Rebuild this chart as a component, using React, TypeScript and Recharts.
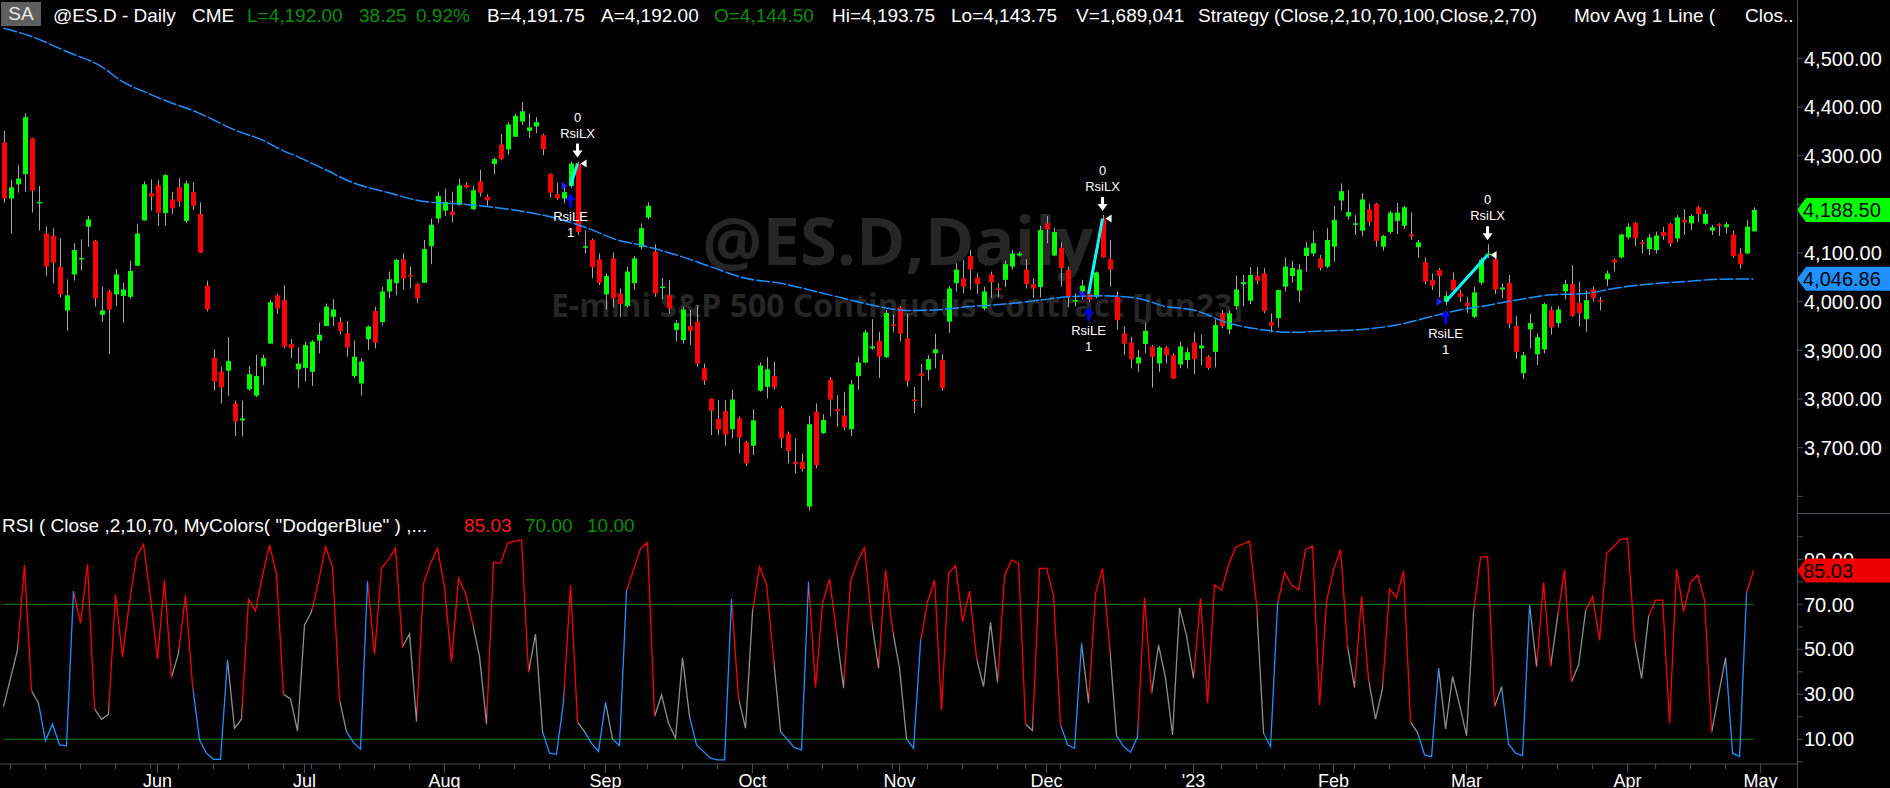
import React from 'react';
import {
  ComposedChart, Bar, Line, Scatter, XAxis, YAxis, ReferenceLine, ReferenceDot,
} from 'recharts';

// daily bars, Apr 29 2022 .. Apr 28 2023 (index = bar number)
const OPEN = [
  4327, 4212, 4241, 4262, 4336, 4204, 4140, 4135, 4071, 3982,
  4056, 4089, 4154, 4125, 3973, 4021, 4015, 4012, 4010, 4074,
  4167, 4223, 4240, 4182, 4210, 4235, 4166, 4225, 4180, 4033,
  3884, 3856, 3858, 3791, 3756, 3820, 3807, 3867, 3914, 4013,
  4003, 3913, 3861, 3864, 3856, 3920, 3950, 3969, 3958, 3935,
  3847, 3832, 3923, 3981, 3958, 4021, 4038, 4087, 4055, 4036,
  4039, 4114, 4171, 4187, 4185, 4199, 4240, 4190, 4247, 4216,
  4283, 4323, 4313, 4339, 4370, 4351, 4360, 4342, 4262, 4221,
  4212, 4238, 4284, 4113, 4127, 4087, 4015, 4089, 4017, 3991,
  4038, 4112, 4173, 4103, 4030, 4013, 3942, 3921, 3950, 3959,
  3863, 3801, 3759, 3775, 3738, 3760, 3711, 3704, 3817, 3825,
  3847, 3781, 3729, 3671, 3671, 3579, 3774, 3730, 3840, 3779,
  3766, 3738, 3847, 3875, 3904, 3919, 3886, 3953, 3988, 3925,
  3799, 3853, 3860, 3894, 3880, 3959, 4038, 4048, 4094, 4050,
  3986, 4056, 4027, 4045, 4072, 4095, 4066, 4036, 4030, 4161,
  4095, 4111, 4065, 4001, 4021, 4016, 4010, 4171, 4087, 4010,
  3935, 3916, 3873, 3913, 3908, 3873, 3906, 3890, 3871, 3880,
  3916, 3904, 3887, 3897, 3976, 3943, 3991, 4036, 4002, 4053,
  4058, 3958, 3966, 4031, 4053, 4023, 4094, 4099, 4089, 4072,
  4113, 4208, 4175, 4160, 4146, 4190, 4201, 4113, 4143, 4166,
  4156, 4138, 4112, 4081, 4045, 4065, 4000, 4045, 4017, 3998,
  3969, 4039, 4096, 4087, 4025, 4038, 3950, 3853, 3943, 3892,
  3902, 3983, 3956, 4021, 4036, 3997, 3964, 4025, 4003, 4046,
  4086, 4091, 4132, 4162, 4122, 4108, 4106, 4143, 4160, 4130,
  4168, 4161, 4194, 4160, 4146, 4159, 4153, 4138, 4099, 4099,
  4144.5,
];
const HIGH = [
  4351, 4251, 4281, 4387, 4337, 4238, 4155, 4151, 4130, 4046,
  4120, 4128, 4176, 4127, 4031, 4025, 4067, 4039, 4084, 4160,
  4247, 4251, 4250, 4262, 4226, 4254, 4249, 4245, 4204, 4043,
  3902, 3867, 3927, 3797, 3797, 3868, 3891, 3891, 4004, 4016,
  4034, 3923, 3906, 3918, 3921, 3957, 3996, 4005, 3968, 3960,
  3920, 3884, 3951, 3990, 4030, 4062, 4088, 4099, 4072, 4039,
  4127, 4171, 4226, 4232, 4226, 4253, 4245, 4238, 4271, 4221,
  4296, 4345, 4369, 4386, 4410, 4387, 4379, 4345, 4264, 4245,
  4242, 4288, 4288, 4146, 4130, 4099, 4058, 4101, 4027, 4072,
  4094, 4161, 4204, 4118, 4048, 4045, 3962, 3990, 3983, 3993,
  3873, 3801, 3798, 3798, 3819, 3764, 3714, 3779, 3875, 3886,
  3877, 3786, 3733, 3719, 3688, 3765, 3791, 3769, 3845, 3808,
  3815, 3839, 3887, 3942, 3964, 3938, 3983, 3973, 3991, 3976,
  3825, 3872, 3890, 3934, 3892, 4032, 4079, 4086, 4106, 4058,
  4031, 4062, 4038, 4084, 4106, 4103, 4087, 4048, 4156, 4176,
  4152, 4122, 4072, 4017, 4045, 4021, 4062, 4178, 4127, 4021,
  3949, 3928, 3901, 3956, 3911, 3909, 3909, 3894, 3918, 3906,
  3937, 3932, 3890, 3964, 3983, 3982, 4054, 4055, 4071, 4071,
  4069, 3976, 4025, 4091, 4084, 4077, 4123, 4145, 4096, 4151,
  4197, 4243, 4229, 4178, 4223, 4202, 4203, 4137, 4187, 4203,
  4197, 4183, 4127, 4091, 4058, 4069, 4021, 4060, 4025, 4010,
  4031, 4091, 4118, 4099, 4038, 4055, 3971, 3897, 3975, 3935,
  3998, 3990, 3991, 4045, 4075, 4041, 4023, 4031, 4010, 4064,
  4089, 4140, 4161, 4164, 4127, 4140, 4144, 4154, 4162, 4178,
  4190, 4180, 4197, 4188, 4158, 4161, 4164, 4146, 4110, 4168,
  4193.75,
];
const LOW = [
  4203, 4140, 4224, 4226, 4183, 4146, 4053, 4038, 4009, 3940,
  4043, 4064, 4113, 3990, 3959, 3892, 3991, 3957, 4006, 4073,
  4166, 4187, 4156, 4156, 4180, 4195, 4162, 4188, 4100, 3980,
  3817, 3791, 3806, 3724, 3723, 3817, 3804, 3829, 3913, 3975,
  3904, 3884, 3823, 3836, 3827, 3894, 3950, 3950, 3933, 3887,
  3843, 3807, 3901, 3904, 3952, 4007, 4013, 4025, 4027, 3997,
  4039, 4077, 4162, 4176, 4163, 4197, 4233, 4188, 4216, 4197,
  4262, 4291, 4301, 4339, 4363, 4337, 4346, 4301, 4214, 4209,
  4202, 4233, 4137, 4099, 4048, 4034, 3984, 3988, 3969, 3988,
  4025, 4108, 4169, 4010, 4005, 3976, 3918, 3914, 3911, 3866,
  3829, 3726, 3726, 3704, 3719, 3688, 3662, 3685, 3815, 3801,
  3819, 3699, 3668, 3647, 3651, 3571, 3658, 3728, 3764, 3743,
  3736, 3724, 3819, 3873, 3901, 3843, 3884, 3938, 3918, 3825,
  3771, 3783, 3838, 3863, 3817, 3936, 4021, 4017, 4025, 4016,
  3982, 4008, 4010, 4030, 4066, 4093, 4027, 4008, 4009, 4120,
  4093, 4031, 3988, 3990, 4005, 4000, 4007, 4091, 4031, 3943,
  3890, 3863, 3856, 3894, 3824, 3856, 3873, 3841, 3863, 3863,
  3851, 3870, 3860, 3865, 3945, 3933, 3984, 3991, 3995, 4036,
  3976, 3937, 3947, 4021, 4039, 3998, 4062, 4093, 4064, 4069,
  4082, 4187, 4169, 4137, 4134, 4156, 4113, 4105, 4139, 4139,
  4149, 4127, 4091, 4036, 4024, 4009, 3993, 4017, 3999, 3977,
  3966, 4034, 4090, 4016, 4007, 3945, 3882, 3841, 3904, 3870,
  3894, 3932, 3947, 4005, 3969, 3949, 3938, 4000, 3982, 4032,
  4062, 4089, 4128, 4114, 4099, 4096, 4099, 4127, 4113, 4123,
  4137, 4147, 4164, 4158, 4137, 4135, 4140, 4091, 4068, 4098,
  4143.75,
];
const CLOSE = [
  4212, 4235, 4253, 4379, 4228, 4205, 4072, 4080, 4015, 4013,
  4106, 4090, 4169, 4007, 3982, 3984, 4056, 4025, 4063, 4140,
  4241, 4216, 4183, 4260, 4192, 4206, 4243, 4197, 4101, 3984,
  3836, 3824, 3878, 3754, 3760, 3851, 3847, 3884, 3999, 3986,
  3908, 3904, 3873, 3911, 3918, 3932, 3990, 3984, 3940, 3906,
  3887, 3877, 3949, 3916, 4021, 4046, 4086, 4048, 4053, 4007,
  4108, 4158, 4217, 4205, 4178, 4239, 4235, 4229, 4224, 4208,
  4293, 4293, 4364, 4382, 4391, 4358, 4369, 4313, 4224, 4212,
  4225, 4284, 4143, 4114, 4071, 4039, 4053, 4007, 3995, 4062,
  4089, 4151, 4197, 4017, 4031, 3986, 3956, 3984, 3940, 3873,
  3838, 3776, 3738, 3727, 3799, 3721, 3668, 3756, 3869, 3861,
  3824, 3719, 3693, 3666, 3656, 3748, 3664, 3757, 3799, 3775,
  3742, 3830, 3875, 3937, 3908, 3887, 3977, 3951, 3934, 3837,
  3796, 3847, 3882, 3902, 3822, 4027, 4066, 4031, 4066, 4036,
  4021, 4040, 4025, 4077, 4099, 4099, 4036, 4027, 4147, 4149,
  4143, 4069, 4010, 4003, 4033, 4004, 4060, 4091, 4066, 3962,
  3914, 3882, 3886, 3940, 3887, 3906, 3890, 3842, 3908, 3896,
  3882, 3910, 3864, 3952, 3950, 3976, 4025, 4040, 4055, 4043,
  3981, 3951, 4024, 4072, 4069, 4066, 4111, 4120, 4069, 4127,
  4168, 4227, 4184, 4161, 4210, 4164, 4125, 4135, 4183, 4183,
  4194, 4134, 4122, 4041, 4033, 4053, 4012, 4023, 4010, 3991,
  4019, 4086, 4099, 4025, 4029, 3955, 3897, 3890, 3956, 3927,
  3995, 3947, 3984, 4036, 3971, 3977, 4003, 4007, 4001, 4058,
  4081, 4138, 4154, 4130, 4120, 4132, 4136, 4135, 4120, 4173,
  4163, 4176, 4180, 4180, 4153, 4158, 4159, 4094, 4077, 4154,
  4188.5,
];

// RSI(2) as plotted in the lower panel
const RSI = [
  24.5, 37.1, 49.7, 87.5, 31.5, 26.0, 9.3, 16.7, 7.5, 7.1,
  75.9, 61.6, 87.8, 23.5, 18.9, 21.1, 74.4, 46.7, 71.2, 91.2,
  96.7, 73.0, 45.6, 80.8, 37.6, 48.2, 74.1, 34.1, 9.7, 3.8,
  1.1, 1.1, 45.3, 14.9, 18.9, 72.2, 67.0, 83.0, 96.4, 83.3,
  30.0, 27.9, 13.7, 60.8, 66.7, 80.1, 95.6, 86.7, 27.5, 13.4,
  8.5, 5.6, 80.4, 47.8, 86.0, 90.0, 94.9, 51.2, 56.8, 17.9,
  79.3, 88.2, 94.9, 77.4, 44.2, 81.6, 74.9, 61.6, 46.7, 16.7,
  88.7, 88.2, 97.1, 98.1, 98.6, 39.8, 56.8, 13.4, 3.8, 3.3,
  26.7, 78.6, 17.6, 13.4, 8.2, 4.6, 26.4, 10.0, 7.2, 75.9,
  85.3, 94.9, 97.4, 20.1, 29.7, 17.1, 10.4, 46.3, 20.1, 7.5,
  4.5, 1.6, 0.8, 0.8, 72.4, 28.2, 14.9, 66.7, 86.7, 78.9,
  46.0, 13.4, 9.7, 6.3, 5.3, 80.1, 33.0, 70.4, 81.3, 57.1,
  32.7, 80.1, 89.0, 95.2, 63.0, 41.6, 85.3, 58.6, 41.6, 10.1,
  6.0, 53.4, 71.2, 80.8, 23.0, 83.8, 87.2, 62.3, 75.9, 46.0,
  33.4, 62.0, 35.3, 82.7, 89.7, 88.2, 16.7, 13.9, 86.0, 86.0,
  73.9, 16.4, 7.5, 6.0, 52.7, 26.0, 74.9, 86.0, 51.6, 11.6,
  6.7, 4.2, 11.2, 73.0, 30.4, 51.9, 37.1, 11.9, 68.5, 56.0,
  37.1, 72.7, 26.0, 78.6, 76.4, 87.5, 95.3, 96.7, 98.1, 69.7,
  12.7, 6.7, 70.0, 84.2, 78.6, 76.4, 94.4, 95.9, 25.3, 71.5,
  85.3, 94.4, 51.2, 33.0, 73.4, 36.4, 19.0, 32.7, 76.8, 73.0,
  84.8, 17.6, 13.0, 3.0, 2.3, 41.6, 14.6, 37.9, 25.3, 11.6,
  66.7, 90.9, 91.2, 24.5, 33.4, 7.9, 3.8, 2.7, 69.7, 42.3,
  79.8, 42.3, 64.5, 85.3, 35.6, 43.0, 67.0, 73.4, 54.1, 92.7,
  95.6, 98.9, 99.3, 54.1, 37.1, 64.5, 71.9, 71.9, 17.1, 85.7,
  66.7, 79.8, 83.0, 71.9, 13.0, 29.7, 46.3, 3.8, 2.3, 75.3,
  85.03,
];

// 100-bar moving average, read at these bars
const MA_IDX = [
  0, 4, 9, 14, 17, 20, 23, 28, 33, 37, 40, 42, 46, 50, 55, 60, 65, 70, 74, 79,
  84, 87, 92, 97, 101, 106, 111, 116, 120, 125, 129, 133, 138, 143, 148, 152, 157, 162, 166, 170,
  175, 180, 184, 189, 194, 199, 203, 208, 211, 216, 221, 226, 230, 235, 240, 245, 250,
];
const MA_VAL = [
  4562, 4545, 4514, 4483, 4452, 4432, 4414, 4387, 4353, 4332, 4310, 4298, 4271, 4244, 4224, 4206, 4201, 4194, 4186, 4171,
  4148, 4130, 4113, 4092, 4072, 4048, 4038, 4021, 4007, 3990, 3982, 3983, 3990, 3995, 4003, 4010, 4012, 4007, 3990, 3983,
  3956, 3942, 3937, 3940, 3943, 3952, 3966, 3983, 3990, 4003, 4014, 4017, 4027, 4036, 4041, 4046, 4046.86,
];

// strategy trades (RsiLE entry bar -> RsiLX exit bar)
const ENTRY_IDX = [81, 155, 206];
const EXIT_IDX = [82, 157, 212];

const MONTH_IDX = [22, 43, 63, 86, 107, 128, 149, 170, 190, 209, 232, 251];
const MONTH_LABELS = ['Jun', 'Jul', 'Aug', 'Sep', 'Oct', 'Nov', 'Dec', "'23", 'Feb', 'Mar', 'Apr', 'May'];
const WEEK_IDX = [
  1, 6, 11, 16, 21, 25, 30, 35, 40, 44, 48, 53, 58, 68, 73, 78, 83, 88, 92, 97, 102,
  112, 117, 122, 127, 132, 137, 142, 146, 151, 156, 161, 166, 174, 179, 183, 188,
  193, 198, 203, 207, 212, 217, 222, 227, 236, 241, 246,
];
const PRICE_TICKS = [3600, 3700, 3800, 3900, 4000, 4100, 4200, 4300, 4400, 4500];
const RSI_TICKS = [0, 10, 20, 30, 40, 50, 60, 70, 80, 90, 100];
const RSI_LABELED = [10, 30, 50, 70, 90];
const OVERBOUGHT = 70;
const OVERSOLD = 10;

const AXIS_X = 1797;
const X_DOMAIN: [number, number] = [-0.5, 256.2];
const PRICE_DOMAIN: [number, number] = [3565.8, 4568.5];
const RSI_DOMAIN: [number, number] = [-1, 110.6];
const FONT = '"Liberation Sans", Arial, sans-serif';

const COL = {
  axis: '#4d4d58',
  up: '#00ff00',
  down: '#ff0000',
  wick: '#a6a6a6',
  ma: '#1e90ff',
  trade: '#00ffff',
  grey: '#8e8e8e',
  red: '#ff0000',
  blue: '#1e90ff',
  level: '#008a00',
  green: '#0a8f0a',
};

const fmt2 = (v: number) =>
  v.toLocaleString('en-US', { minimumFractionDigits: 2, maximumFractionDigits: 2 });

const candles = OPEN.map((o, i) => ({
  i, open: o, high: HIGH[i], low: LOW[i], close: CLOSE[i], range: [LOW[i], HIGH[i]],
}));
const rsiRows = RSI.map((v, i) => ({ i, rsi: v }));
const maRows = MA_IDX.map((i, k) => ({ i, ma: MA_VAL[k] }));
const trades = ENTRY_IDX.map((e, k) => [
  { i: e, v: OPEN[e] },
  { i: EXIT_IDX[k], v: OPEN[EXIT_IDX[k]] },
]);
const entryMarks = ENTRY_IDX.map((i) => ({ i, y: LOW[i] }));
const exitMarks = EXIT_IDX.map((i) => ({ i, y: HIGH[i] }));
const entryFills = ENTRY_IDX.map((i) => ({ i, y: OPEN[i] }));
const exitFills = EXIT_IDX.map((i) => ({ i, y: OPEN[i] }));

const segColor = (a: number, b: number) => {
  if (a < OVERSOLD || b < OVERSOLD) return COL.blue;
  if (a > OVERBOUGHT || b > OVERBOUGHT) return COL.red;
  return COL.grey;
};

const Candle = (props: any) => {
  const { x, y, width, height, payload } = props;
  if (x == null || !payload) return null;
  const top = Math.min(y, y + height);
  const bot = Math.max(y, y + height);
  const span = payload.high - payload.low || 1;
  const toY = (v: number) => top + ((payload.high - v) / span) * (bot - top);
  const cx = Math.round(x + width / 2) + 0.5;
  const yo = toY(payload.open);
  const yc = toY(payload.close);
  const color = payload.close >= payload.open ? COL.up : COL.down;
  const bt = Math.min(yo, yc);
  const bh = Math.max(1.5, Math.abs(yc - yo));
  return (
    <g>
      <line x1={cx} x2={cx} y1={top} y2={bot} stroke={COL.wick} strokeWidth={1} />
      <rect x={cx - 2.5} y={bt} width={5} height={bh} fill={color} />
    </g>
  );
};

const EntryMark = ({ cx, cy }: any) => {
  if (cx == null) return null;
  const t = cy + 5;
  return (
    <g>
      <polygon points={`${cx},${t} ${cx - 5},${t + 7} ${cx + 5},${t + 7}`} fill="#0000ff" />
      <rect x={cx - 1.5} y={t + 6} width={3} height={8} fill="#0000ff" />
      <text x={cx} y={t + 28} fill="#fff" fontSize={13} textAnchor="middle" fontFamily={FONT}>RsiLE</text>
      <text x={cx} y={t + 44} fill="#fff" fontSize={13} textAnchor="middle" fontFamily={FONT}>1</text>
    </g>
  );
};

const ExitMark = ({ cx, cy }: any) => {
  if (cx == null) return null;
  const b = cy - 4;
  return (
    <g>
      <polygon points={`${cx},${b} ${cx - 5},${b - 7} ${cx + 5},${b - 7}`} fill="#ffffff" />
      <rect x={cx - 1.5} y={b - 14} width={3} height={8} fill="#ffffff" />
      <text x={cx} y={b - 20} fill="#fff" fontSize={13} textAnchor="middle" fontFamily={FONT}>RsiLX</text>
      <text x={cx} y={b - 36} fill="#fff" fontSize={13} textAnchor="middle" fontFamily={FONT}>0</text>
    </g>
  );
};

const EntryFill = ({ cx, cy }: any) =>
  cx == null ? null : (
    <polygon points={`${cx - 9},${cy - 4} ${cx - 3},${cy} ${cx - 9},${cy + 4}`} fill="#2020ff" />
  );

const ExitFill = ({ cx, cy }: any) =>
  cx == null ? null : (
    <polygon points={`${cx + 9},${cy - 4} ${cx + 3},${cy} ${cx + 9},${cy + 4}`} fill="#ffffff" />
  );

// value tag on the price scale, drawn over the scale labels
const Tag = ({ cy, fill, text }: any) => {
  if (cy == null) return null;
  const x0 = AXIS_X;
  const h = 24;
  return (
    <g>
      <polygon
        points={`${x0},${cy} ${x0 + 9},${cy - h / 2} ${x0 + 95},${cy - h / 2} ${x0 + 95},${cy + h / 2} ${x0 + 9},${cy + h / 2}`}
        fill={fill}
      />
      <text x={x0 + 6} y={cy} dy="0.36em" fill="#000" fontSize={20} fontFamily={FONT}>{text}</text>
    </g>
  );
};

const PriceTick = ({ x, y, payload }: any) => (
  <g>
    <line x1={x} x2={x + 6} y1={y} y2={y} stroke={COL.axis} />
    {payload.value !== 3600 && (
      <text x={x + 7} y={y} dy="0.36em" fill="#fff" fontSize={20} fontFamily={FONT}>{fmt2(payload.value)}</text>
    )}
  </g>
);

const RsiTick = ({ x, y, payload }: any) => (
  <g>
    <line x1={x} x2={x + 6} y1={y} y2={y} stroke={COL.axis} />
    {RSI_LABELED.includes(payload.value) && (
      <text x={x + 7} y={y} dy="0.36em" fill="#fff" fontSize={20} fontFamily={FONT}>{fmt2(payload.value)}</text>
    )}
  </g>
);

const DateTick = ({ x, y, payload }: any) => {
  const m = MONTH_IDX.indexOf(payload.value);
  return (
    <g>
      <line x1={x} x2={x} y1={y} y2={y + (m >= 0 ? 9 : 5)} stroke={COL.axis} />
      {m >= 0 && (
        <text x={x} y={y + 23} fill="#fff" fontSize={18} textAnchor="middle" fontFamily={FONT}>{MONTH_LABELS[m]}</text>
      )}
    </g>
  );
};

const HEADER = [
  { x: 53, t: '@ES.D - Daily', c: '#fff' },
  { x: 192, t: 'CME', c: '#fff' },
  { x: 247, t: 'L=4,192.00', c: COL.green },
  { x: 359, t: '38.25', c: COL.green },
  { x: 416, t: '0.92%', c: COL.green },
  { x: 487, t: 'B=4,191.75', c: '#fff' },
  { x: 601, t: 'A=4,192.00', c: '#fff' },
  { x: 714, t: 'O=4,144.50', c: COL.green },
  { x: 832, t: 'Hi=4,193.75', c: '#fff' },
  { x: 951, t: 'Lo=4,143.75', c: '#fff' },
  { x: 1076, t: 'V=1,689,041', c: '#fff' },
  { x: 1198, t: 'Strategy (Close,2,10,70,100,Close,2,70)', c: '#fff' },
  { x: 1574, t: 'Mov Avg 1 Line (', c: '#fff' },
  { x: 1745, t: 'Clos...', c: '#fff' },
];

const RSI_TITLE = [
  { x: 2, t: 'RSI ( Close ,2,10,70, MyColors( "DodgerBlue" ) ,...', c: '#fff' },
  { x: 464, t: '85.03', c: '#ff1a1a' },
  { x: 525, t: '70.00', c: COL.green },
  { x: 587, t: '10.00', c: COL.green },
];

export default function App() {
  const n = RSI.length - 1;
  const stops: React.ReactNode[] = [];
  for (let k = 0; k < n; k++) {
    const c = segColor(RSI[k], RSI[k + 1]);
    stops.push(<stop key={`a${k}`} offset={k / n} stopColor={c} />);
    stops.push(<stop key={`b${k}`} offset={(k + 1) / n} stopColor={c} />);
  }
  const lastMa = MA_VAL[MA_VAL.length - 1];
  const lastClose = CLOSE[CLOSE.length - 1];

  const text = (s: { x: number; t: string; c: string }, top: number, i: number) => (
    <div key={i} style={{ position: 'absolute', left: s.x, top, color: s.c, fontSize: 19, lineHeight: '22px', whiteSpace: 'pre' }}>
      {s.t}
    </div>
  );

  return (
    <div style={{ position: 'absolute', left: 0, top: 0, width: 1890, height: 788, background: '#000', overflow: 'hidden', fontFamily: FONT }}>
      {/* watermark */}
      <svg width={1890} height={513} style={{ position: 'absolute', left: 0, top: 0 }}>
        <text x={898} y={265} textAnchor="middle" fontSize={67} fontWeight={700} fill="#262626" fontFamily='"Open Sans", sans-serif'>@ES.D,Daily</text>
        <text x={897} y={317} textAnchor="middle" fontSize={32} fontWeight={700} fill="#262626" fontFamily='"Open Sans", sans-serif'>E-mini S&amp;P 500 Continuous Contract [Jun23]</text>
      </svg>

      {/* header */}
      <div style={{ position: 'absolute', left: 0, top: 0, width: 1795, height: 26, overflow: 'hidden' }}>
        <div style={{ position: 'absolute', left: 1, top: 2, width: 40, height: 24, background: '#5e5e5e', color: '#e8e8e8', fontSize: 19, lineHeight: '24px', textAlign: 'center' }}>SA</div>
        {HEADER.map((s, i) => text(s, 5, i))}
      </div>

      {/* price panel */}
      <div style={{ position: 'absolute', left: 0, top: 0 }}>
        <ComposedChart width={1890} height={513} data={candles} margin={{ top: 25, right: 0, bottom: 0, left: 0 }}>
          <XAxis dataKey="i" type="number" domain={X_DOMAIN} allowDataOverflow hide />
          <YAxis
            orientation="right" width={93} domain={PRICE_DOMAIN} allowDataOverflow
            ticks={PRICE_TICKS} interval={0} tick={<PriceTick />} tickSize={0} tickMargin={0}
            axisLine={false} tickLine={false}
          />
          <Bar dataKey="range" barSize={5} shape={<Candle />} isAnimationActive={false} />
          <Line data={maRows} dataKey="ma" type="monotone" stroke={COL.ma} strokeWidth={1.5} strokeDasharray="14 2" dot={false} isAnimationActive={false} />
          {trades.map((t, k) => (
            <Line key={k} data={t} dataKey="v" stroke={COL.trade} strokeWidth={3} dot={false} isAnimationActive={false} />
          ))}
          <Scatter data={entryFills} dataKey="y" shape={<EntryFill />} isAnimationActive={false} />
          <Scatter data={exitFills} dataKey="y" shape={<ExitFill />} isAnimationActive={false} />
          <Scatter data={entryMarks} dataKey="y" shape={<EntryMark />} isAnimationActive={false} />
          <Scatter data={exitMarks} dataKey="y" shape={<ExitMark />} isAnimationActive={false} />
        </ComposedChart>
      </div>

      {/* price panel tags, layered above the scale labels */}
      <div style={{ position: 'absolute', left: 0, top: 0 }}>
        <ComposedChart width={1890} height={513} data={candles} margin={{ top: 25, right: 93, bottom: 0, left: 0 }}>
          <XAxis dataKey="i" type="number" domain={X_DOMAIN} allowDataOverflow hide />
          <YAxis domain={PRICE_DOMAIN} allowDataOverflow hide width={0} />
          <ReferenceDot x={MA_IDX[MA_IDX.length - 1]} y={lastMa} ifOverflow="visible"
            shape={(p: any) => <Tag {...p} fill={COL.ma} text={fmt2(lastMa)} />} />
          <ReferenceDot x={CLOSE.length - 1} y={lastClose} ifOverflow="visible"
            shape={(p: any) => <Tag {...p} fill={COL.up} text={fmt2(lastClose)} />} />
        </ComposedChart>
      </div>

      {/* RSI panel */}
      <div style={{ position: 'absolute', left: 0, top: 513 }}>
        <ComposedChart width={1890} height={275} data={rsiRows} margin={{ top: 0, right: 0, bottom: 0, left: 0 }}>
          <defs>
            <linearGradient id="rsiStroke" x1="0" y1="0" x2="1" y2="0">{stops}</linearGradient>
          </defs>
          <XAxis
            dataKey="i" type="number" domain={X_DOMAIN} allowDataOverflow
            ticks={[...WEEK_IDX, ...MONTH_IDX].sort((a, b) => a - b)} interval={0}
            tick={<DateTick />} tickSize={0} tickMargin={0} height={24}
            axisLine={{ stroke: COL.axis }} tickLine={false}
          />
          <YAxis
            orientation="right" width={93} domain={RSI_DOMAIN} allowDataOverflow
            ticks={RSI_TICKS} interval={0} tick={<RsiTick />} tickSize={0} tickMargin={0}
            axisLine={false} tickLine={false}
          />
          <ReferenceLine segment={[{ x: 0, y: OVERBOUGHT }, { x: n, y: OVERBOUGHT }]} stroke={COL.level} strokeWidth={1} />
          <ReferenceLine segment={[{ x: 0, y: OVERSOLD }, { x: n, y: OVERSOLD }]} stroke={COL.level} strokeWidth={1} />
          <Line dataKey="rsi" type="linear" stroke="url(#rsiStroke)" strokeWidth={1.3} dot={false} isAnimationActive={false} />
        </ComposedChart>
      </div>

      {/* RSI tag overlay */}
      <div style={{ position: 'absolute', left: 0, top: 513 }}>
        <ComposedChart width={1890} height={275} data={rsiRows} margin={{ top: 0, right: 93, bottom: 24, left: 0 }}>
          <XAxis dataKey="i" type="number" domain={X_DOMAIN} allowDataOverflow hide />
          <YAxis domain={RSI_DOMAIN} allowDataOverflow hide width={0} />
          <ReferenceDot x={n} y={RSI[n]} ifOverflow="visible"
            shape={(p: any) => <Tag {...p} fill="#ee0000" text={fmt2(RSI[n])} />} />
        </ComposedChart>
      </div>

      {RSI_TITLE.map((s, i) => text(s, 515, i))}

      {/* price scale frame */}
      <div style={{ position: 'absolute', left: AXIS_X, top: 0, width: 1, height: 788, background: COL.axis }} />
      <div style={{ position: 'absolute', left: AXIS_X, top: 513, width: 93, height: 1, background: COL.axis }} />
    </div>
  );
}
